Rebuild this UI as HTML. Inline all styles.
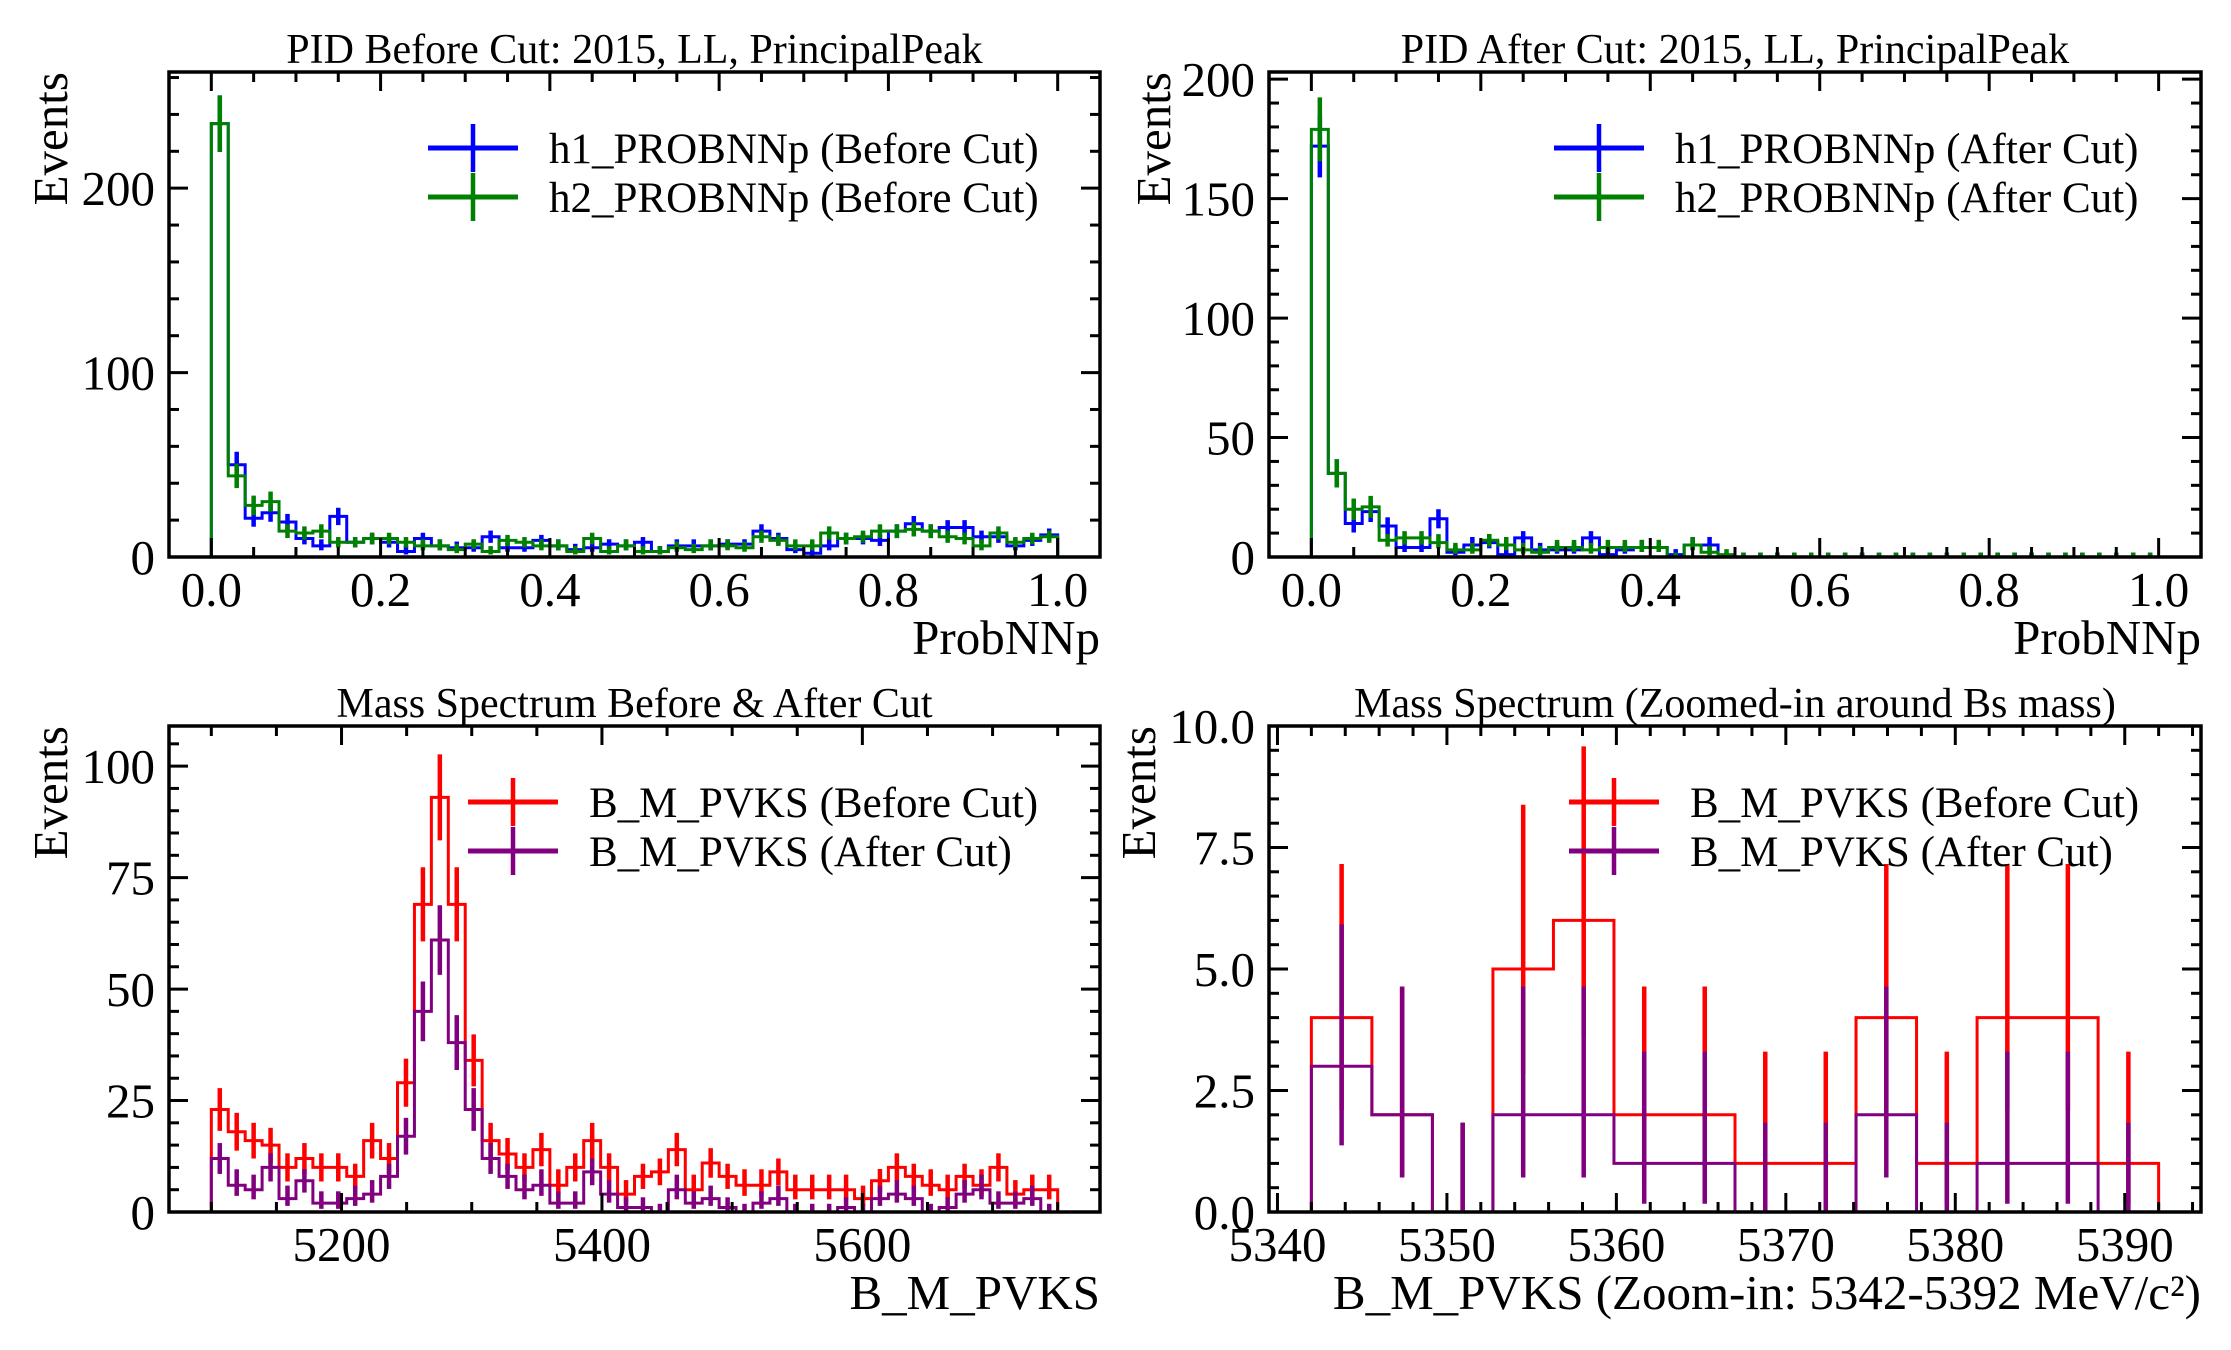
<!DOCTYPE html>
<html><head><meta charset="utf-8"><title>PID and Mass Spectrum</title>
<style>
html,body{margin:0;padding:0;background:#fff;}
svg{display:block;font-family:"Liberation Serif","DejaVu Serif",serif;}
</style></head>
<body>
<svg id="fig" width="2231" height="1350" viewBox="0 0 2231 1350" xmlns="http://www.w3.org/2000/svg"></svg>
<script>
// ---- Panel 1 data (PID before cut), 50 bins in [0,1]
const p1Edges = [0, 1];
const p1H1 = [235,50,21,24,19,10,6,22,8,10,8,3,10,6,5,5,11,5,5,9,6,4,5,7,6,8,3,6,6,6,7,7,14,10,4,2,6,10,10,9,14,18,14,16,16,11,11,6,9,12];
const p1H2 = [235,44,28,30,14,13,14,8,8,10,10,8,6,6,4,7,3,9,8,6,6,3,10,3,6,3,3,5,4,6,6,5,11,9,6,6,13,10,11,14,14,15,14,11,10,6,13,8,10,11];
const p1XTicks = [0,0.2,0.4,0.6,0.8,1.0];
const p1XTickLabels = ["0.0","0.2","0.4","0.6","0.8","1.0"];
const p1YTicks = [0,100,200];
const p1YTickLabels = ["0","100","200"];
// ---- Panel 2 data (PID after cut)
const p2H1 = [172,35,14,19,13,4,4,16,2,5,6,1,8,3,3,3,8,1,3,4,4,1,5,5,0,0,0,0,0,0,0,0,0,0,0,0,0,0,0,0,0,0,0,0,0,0,0,0,0,0];
const p2H2 = [179,35,20,21,7,8,8,6,3,3,7,5,3,2,4,4,3,4,4,4,4,0,5,2,1,0,0,0,0,0,0,0,0,0,0,0,0,0,0,0,0,0,0,0,0,0,0,0,0,0];
const p2YTicks = [0,50,100,150,200];
const p2YTickLabels = ["0","50","100","150","200"];
// ---- Panel 3 data (mass spectrum), 50 bins in [5100,5750]
const p3Edges = [5100, 5750];
const p3Before = [23,18,16,15,10,12,10,10,8,16,12,29,69,93,69,34,16,13,10,14,6,10,16,10,4,8,9,14,5,11,8,6,6,9,5,5,5,5,3,7,10,8,6,5,8,6,10,4,5,5];
const p3After = [12,6,5,10,3,7,2,2,3,4,8,17,45,61,38,23,12,8,5,6,2,2,9,4,1,1,0,5,2,3,1,0,2,3,0,0,0,1,0,3,4,3,0,1,4,5,2,2,3,0];
const p3XTicks = [5200,5400,5600];
const p3XTickLabels = ["5200","5400","5600"];
const p3YTicks = [0,25,50,75,100];
const p3YTickLabels = ["0","25","50","75","100"];
// ---- Panel 4 data (zoomed mass), 14 bins in [5342,5392]
const p4Edges = [5342, 5392];
const p4Before = [4,2,0,5,6,2,2,1,1,4,1,4,4,1];
const p4After = [3,2,0,2,2,1,1,0,0,2,0,1,1,0];
const p4XTicks = [5340,5350,5360,5370,5380,5390];
const p4XTickLabels = ["5340","5350","5360","5370","5380","5390"];
const p4YTicks = [0,2.5,5,7.5,10];
const p4YTickLabels = ["0.0","2.5","5.0","7.5","10.0"];

const NS = "http://www.w3.org/2000/svg";
const fig = document.getElementById('fig');
const POIS = [[0,1.84],[0.17,3.30],[0.71,4.64],[1.37,5.92],[2.09,7.16],[2.84,8.38],[3.62,9.58]];
function errRange(n){ if(n<POIS.length) return POIS[n]; const s=Math.sqrt(n); return [n-s,n+s]; }
function mk(tag, attrs, parent){ const e=document.createElementNS(NS,tag); for(const k in attrs) e.setAttribute(k,attrs[k]); (parent||fig).appendChild(e); return e; }

function drawPanel(cfg){
  const g = mk('g',{});
  
  
  const {l,r,t,b} = cfg.box;
  const sx = v => l + (v-cfg.xmin)/(cfg.xmax-cfg.xmin)*(r-l);
  const sy = v => b - (v-cfg.ymin)/(cfg.ymax-cfg.ymin)*(b-t);
  cfg.series.forEach(s=>{
    const n = s.vals.length, w=(cfg.hx1-cfg.hx0)/n;
    let d = `M${sx(cfg.hx0)},${sy(0)}`;
    s.vals.forEach((v,i)=>{ d += ` L${sx(cfg.hx0+i*w)},${sy(v)} L${sx(cfg.hx0+(i+1)*w)},${sy(v)}`; });
    d += ` L${sx(cfg.hx1)},${sy(0)}`;
    const path = mk('path',{d:d,fill:'none',stroke:s.color,'stroke-width':3},g);
    
    
    s.vals.forEach((v,i)=>{
      const cx = sx(cfg.hx0+(i+0.5)*w), [lo,hi]=errRange(v);
      const eb = mk('line',{x1:cx,x2:cx,y1:sy(Math.max(lo,cfg.ymin)),y2:sy(Math.min(hi,cfg.ymax)),stroke:s.color,'stroke-width':4.5},g);
      
      
    });
  });
  const fr = mk('rect',{x:l,y:t,width:r-l,height:b-t,fill:'none',stroke:'#000','stroke-width':3.5},g);
  
  
  const tk = mk('g',{stroke:'#000','stroke-width':3},g);
  
  
  const eps=1e-9;
  for(let v=Math.ceil(cfg.xmin/cfg.xminor)*cfg.xminor; v<=cfg.xmax+eps; v+=cfg.xminor){
    const isMaj = cfg.xticks.some(m=>Math.abs(m-v)<1e-6);
    const L = isMaj?19:10, x=sx(v);
    mk('line',{x1:x,x2:x,y1:b,y2:b-L},tk); mk('line',{x1:x,x2:x,y1:t,y2:t+L},tk);
  }
  for(let v=Math.ceil(cfg.ymin/cfg.yminor)*cfg.yminor; v<=cfg.ymax+eps; v+=cfg.yminor){
    const isMaj = Math.abs(Math.round(v/cfg.ymajor)*cfg.ymajor-v)<1e-6;
    const L = isMaj?19:10, y=sy(v);
    mk('line',{x1:l,x2:l+L,y1:y,y2:y},tk); mk('line',{x1:r,x2:r-L,y1:y,y2:y},tk);
  }
  cfg.xticks.forEach((v,i)=>{
    const tx = mk('text',{x:sx(v),y:b+49,'font-size':49,'text-anchor':'middle'},g);
    tx.textContent = cfg.xlabels[i];
    
    
  });
  cfg.yticks.forEach((v,i)=>{
    const ty = mk('text',{x:l-14,y:sy(v)+17,'font-size':49,'text-anchor':'end'},g);
    ty.textContent = cfg.ylabels[i];
    
    
  });
  const title = mk('text',{x:(l+r)/2,y:t-9,'font-size':42,'text-anchor':'middle'},g);
  title.textContent = cfg.title;
  
  
  const xl = mk('text',{x:r,y:b+97,'font-size':49,'text-anchor':'end'},g);
  xl.textContent = cfg.xtitle;
  
  
  const yl = mk('text',{x:0,y:0,'font-size':49,'text-anchor':'end',transform:`translate(${cfg.ylabx},${t}) rotate(-90)`},g);
  yl.textContent = 'Events';
  
  
  cfg.series.forEach((s,i)=>{
    const ly = cfg.leg.y + i*49;
    const lg = mk('g',{},g);
    
    
    mk('line',{x1:cfg.leg.x,x2:cfg.leg.x+90,y1:ly,y2:ly,stroke:s.color,'stroke-width':5},lg);
    mk('line',{x1:cfg.leg.x+45,x2:cfg.leg.x+45,y1:ly-24,y2:ly+24,stroke:s.color,'stroke-width':4.5},lg);
    const lt = mk('text',{x:cfg.leg.x+121,y:ly+15,'font-size':43},lg);
    lt.textContent = s.label;
  });
}

drawPanel({name:'pid-before-cut-panel', box:{l:169,r:1100,t:72,b:557}, xmin:-0.05,xmax:1.05,ymin:0,ymax:263,
  hx0:p1Edges[0],hx1:p1Edges[1], xticks:p1XTicks,xlabels:p1XTickLabels,xmajor:0.2,xminor:0.05,
  yticks:p1YTicks,ylabels:p1YTickLabels,ymajor:100,yminor:20,
  title:'PID Before Cut: 2015, LL, PrincipalPeak', xtitle:'ProbNNp', ylabx:67, leg:{x:428,y:148},
  series:[{key:'h1',vals:p1H1,color:'#0000ff',label:'h1_PROBNNp (Before Cut)'},{key:'h2',vals:p1H2,color:'#008000',label:'h2_PROBNNp (Before Cut)'}]});
drawPanel({name:'pid-after-cut-panel', box:{l:1269,r:2201,t:72,b:557}, xmin:-0.05,xmax:1.05,ymin:0,ymax:203,
  hx0:p1Edges[0],hx1:p1Edges[1], xticks:p1XTicks,xlabels:p1XTickLabels,xmajor:0.2,xminor:0.05,
  yticks:p2YTicks,ylabels:p2YTickLabels,ymajor:50,yminor:10,
  title:'PID After Cut: 2015, LL, PrincipalPeak', xtitle:'ProbNNp', ylabx:1170, leg:{x:1554,y:148},
  series:[{key:'h1',vals:p2H1,color:'#0000ff',label:'h1_PROBNNp (After Cut)'},{key:'h2',vals:p2H2,color:'#008000',label:'h2_PROBNNp (After Cut)'}]});
drawPanel({name:'mass-spectrum-panel', box:{l:169,r:1100,t:726,b:1212}, xmin:5067.5,xmax:5782.5,ymin:0,ymax:109,
  hx0:p3Edges[0],hx1:p3Edges[1], xticks:p3XTicks,xlabels:p3XTickLabels,xmajor:200,xminor:50,
  yticks:p3YTicks,ylabels:p3YTickLabels,ymajor:25,yminor:5,
  title:'Mass Spectrum Before & After Cut', xtitle:'B_M_PVKS', ylabx:67, leg:{x:468,y:802},
  series:[{key:'before',vals:p3Before,color:'#ff0000',label:'B_M_PVKS (Before Cut)'},{key:'after',vals:p3After,color:'#800080',label:'B_M_PVKS (After Cut)'}]});
drawPanel({name:'mass-zoom-panel', box:{l:1269,r:2201,t:726,b:1212}, xmin:5339.5,xmax:5394.5,ymin:0,ymax:10,
  hx0:p4Edges[0],hx1:p4Edges[1], xticks:p4XTicks,xlabels:p4XTickLabels,xmajor:10,xminor:2,
  yticks:p4YTicks,ylabels:p4YTickLabels,ymajor:2.5,yminor:0.5,
  title:'Mass Spectrum (Zoomed-in around Bs mass)', xtitle:'B_M_PVKS (Zoom-in: 5342-5392 MeV/c²)', ylabx:1155, leg:{x:1569,y:802},
  series:[{key:'before',vals:p4Before,color:'#ff0000',label:'B_M_PVKS (Before Cut)'},{key:'after',vals:p4After,color:'#800080',label:'B_M_PVKS (After Cut)'}]});
</script>
</body></html>
